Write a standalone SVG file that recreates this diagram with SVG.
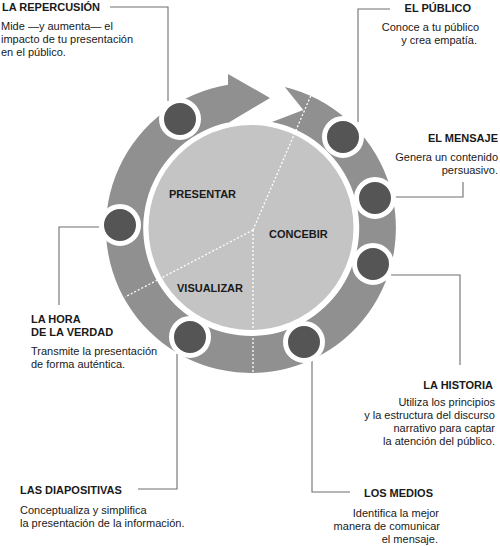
<svg xmlns="http://www.w3.org/2000/svg" width="500" height="546" viewBox="0 0 500 546">
<style>
.t{font-family:"Liberation Sans",Arial,sans-serif;font-size:11px;font-weight:bold;fill:#1a1a1a}
.b{font-family:"Liberation Sans",Arial,sans-serif;font-size:11px;fill:#1a1a1a}
.r{text-anchor:end}
.lead{fill:none;stroke:#6e6e6e;stroke-width:1.1}
.dash{fill:none;stroke:#ffffff;stroke-width:1.3;stroke-dasharray:2 2}
.node{fill:#555555;stroke:#ffffff;stroke-width:5}
</style>
<rect width="500" height="546" fill="#ffffff"/>
<g id="wheel">
<path d="M284.8 87 A145 145 0 1 1 228 84.8 L228 74 L270 98 L228 123 L228 122.5 A108 108 0 1 0 272 122 L303.3 110 Z" fill="#909090"/>
<circle cx="251" cy="227.5" r="102.5" fill="#c4c4c4"/>
</g>
<g id="dividers">
<path class="dash" d="M253 230 L312 93"/>
<path class="dash" d="M253 230 L125 297"/>
<path class="dash" d="M253 230 L253 373"/>
</g>
<g id="phases">
<text class="t" x="169" y="198">PRESENTAR</text>
<text class="t" x="269" y="238">CONCEBIR</text>
<text class="t" x="177" y="292">VISUALIZAR</text>
</g>
<g id="connectors">
<path class="lead" d="M110 7 H168 V101"/>
<path class="lead" d="M390 9 H358 V122"/>
<path class="lead" d="M395 197 H463 V182"/>
<path class="lead" d="M391 275 H460 V365"/>
<path class="lead" d="M312 361 V492 H350"/>
<path class="lead" d="M177 354 V489 H138"/>
<path class="lead" d="M99 227 H59 V305"/>
</g>
<g id="n-repercusion">
<circle class="node" cx="180" cy="119" r="18.5"/>
<text class="t" x="2" y="11">LA REPERCUSIÓN</text>
<text class="b" x="1" y="30">Mide —y aumenta— el</text>
<text class="b" x="1" y="43">impacto de tu presentación</text>
<text class="b" x="1" y="56">en el público.</text>
</g>
<g id="n-publico">
<circle class="node" cx="343" cy="137" r="18.5"/>
<text class="t r" x="471" y="12">EL PÚBLICO</text>
<text class="b r" x="479" y="31">Conoce a tu público</text>
<text class="b r" x="477" y="44">y crea empatía.</text>
</g>
<g id="n-mensaje">
<circle class="node" cx="375" cy="198" r="18.5"/>
<text class="t r" x="498" y="142">EL MENSAJE</text>
<text class="b r" x="498" y="161">Genera un contenido</text>
<text class="b r" x="498" y="174">persuasivo.</text>
</g>
<g id="n-historia">
<circle class="node" cx="373" cy="264" r="18.5"/>
<text class="t r" x="493" y="389">LA HISTORIA</text>
<text class="b r" x="495" y="406">Utiliza los principios</text>
<text class="b r" x="495" y="419">y la estructura del discurso</text>
<text class="b r" x="495" y="432">narrativo para captar</text>
<text class="b r" x="495" y="445">la atención del público.</text>
</g>
<g id="n-medios">
<circle class="node" cx="304" cy="342" r="18.5"/>
<text class="t r" x="433" y="497">LOS MEDIOS</text>
<text class="b r" x="439" y="517">Identifica la mejor</text>
<text class="b r" x="440" y="530">manera de comunicar</text>
<text class="b r" x="438" y="543">el mensaje.</text>
</g>
<g id="n-diapositivas">
<circle class="node" cx="190" cy="337" r="18.5"/>
<text class="t" x="20" y="494">LAS DIAPOSITIVAS</text>
<text class="b" x="20" y="514">Conceptualiza y simplifica</text>
<text class="b" x="20" y="527">la presentación de la información.</text>
</g>
<g id="n-hora">
<circle class="node" cx="120" cy="225" r="18.5"/>
<text class="t" x="31" y="323">LA HORA</text>
<text class="t" x="31" y="336">DE LA VERDAD</text>
<text class="b" x="31" y="355">Transmite la presentación</text>
<text class="b" x="31" y="368">de forma auténtica.</text>
</g>
</svg>
